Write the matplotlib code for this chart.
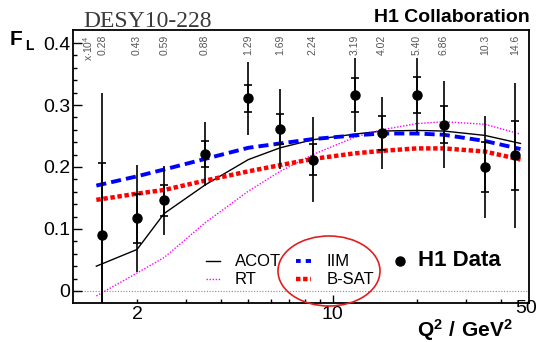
import matplotlib
matplotlib.use("Agg")
import matplotlib.pyplot as plt
from matplotlib.lines import Line2D
from matplotlib.patches import Ellipse
from matplotlib.ticker import FixedLocator, FuncFormatter

plt.rcParams['font.family'] = ['Liberation Sans', 'DejaVu Sans']
plt.rcParams['mathtext.fontset'] = 'custom'
plt.rcParams['mathtext.rm'] = 'Liberation Sans'
plt.rcParams['mathtext.bf'] = 'Liberation Sans:bold'

# H1 F_L measurement
q2 = [1.5, 2, 2.5, 3.5, 5, 6.5, 8.5, 12, 15, 20, 25, 35, 45]
fl = [0.090, 0.117, 0.146, 0.221, 0.311, 0.261, 0.212, 0.316, 0.255, 0.316, 0.268, 0.200, 0.219]
fl_stat = [0.116, 0.039, 0.025, 0.021, 0.022, 0.024, 0.025, 0.028, 0.027, 0.029, 0.030, 0.040, 0.056]
fl_tot = [0.229, 0.087, 0.056, 0.052, 0.059, 0.065, 0.068, 0.060, 0.058, 0.060, 0.070, 0.082, 0.117]
x_labels = ['0.28', '0.43', '0.59', '0.88', '1.29', '1.69', '2.24',
            '3.19', '4.02', '5.40', '6.86', '10.3', '14.6']

# model predictions
q2_model = [1.43, 2, 2.5, 3.5, 5, 6.5, 8.5, 12, 15, 20, 25, 35, 47]
acot = [0.040, 0.067, 0.125, 0.171, 0.212, 0.231, 0.244, 0.253, 0.258, 0.259, 0.258, 0.251, 0.238]
rt = [-0.008, 0.029, 0.054, 0.110, 0.161, 0.193, 0.220, 0.248, 0.260, 0.270, 0.273, 0.269, 0.253]
iim = [0.170, 0.185, 0.196, 0.213, 0.231, 0.238, 0.245, 0.251, 0.254, 0.254, 0.252, 0.242, 0.229]
bsat = [0.147, 0.157, 0.163, 0.178, 0.193, 0.203, 0.213, 0.222, 0.226, 0.230, 0.230, 0.225, 0.212]

W, H = 541, 342
fig = plt.figure(figsize=(W / 100, H / 100), dpi=100)


def px(x, y):
    # pixel position (from top left) -> figure fraction
    return x / W, 1 - y / H


ax = fig.add_axes([73 / W, (H - 303) / H, (529 - 73) / W, (303 - 29.5) / H])
ax.set_xscale('log')
ax.set_xlim(1.18, 50.4)
ax.set_ylim(-0.0194, 0.4218)

ax.axhline(0, color='#888888', lw=0.8, ls=(0, (1, 1.5)), zorder=1)

ax.plot(q2_model, acot, color='black', lw=1.0, zorder=2)
ax.plot(q2_model, rt, color='#ff00ff', lw=1.0, ls=(0, (1, 1.2)), zorder=2)
ax.plot(q2_model, iim, color='#0000ff', lw=2.8, ls=(0, (2.6, 1.3)), zorder=2)
ax.plot(q2_model, bsat, color='#ff0000', lw=3.2, ls=(0, (1, 0.6)),
        dash_capstyle='butt', zorder=2)

ax.errorbar(q2, fl, yerr=fl_tot, fmt='o', color='black', ms=6.5,
            elinewidth=1.2, capsize=0, zorder=3)
ax.errorbar(q2, fl, yerr=fl_stat, fmt='none', ecolor='black',
            elinewidth=1.2, capsize=3, capthick=1.2, zorder=3)

# x values along the top
for q, lab in zip(q2, x_labels):
    ax.text(q, 0.413, lab, rotation=90, ha='center', va='top',
            fontsize=7.5, color='#555555')
fig.text(*px(88, 35), r'x$\cdot$10$^{4}$', rotation=90, ha='center', va='top',
         fontsize=7.5, color='#555555')

# axis ticks
ax.yaxis.set_major_locator(FixedLocator([0, 0.1, 0.2, 0.3, 0.4]))
ax.yaxis.set_minor_locator(FixedLocator([i * 0.02 for i in range(21)]))
ax.yaxis.set_major_formatter(FuncFormatter(lambda v, p: '0' if abs(v) < 1e-9 else '%.1f' % v))
ax.xaxis.set_major_locator(FixedLocator([10]))
ax.xaxis.set_minor_locator(FixedLocator([2, 3, 4, 5, 6, 7, 8, 9, 20, 30, 40]))
ax.xaxis.set_major_formatter(FuncFormatter(lambda v, p: '10'))
ax.xaxis.set_minor_formatter(FuncFormatter(lambda v, p: '2' if abs(v - 2) < 1e-6 else ''))
ax.tick_params(which='both', direction='in', top=False, right=False, width=1.0)
ax.tick_params(axis='y', which='major', length=6.5, pad=2, labelsize=14)
ax.tick_params(axis='y', which='minor', length=3.2)
ax.tick_params(axis='x', which='major', length=5.8, pad=2.5, labelsize=14)
ax.tick_params(axis='x', which='minor', length=2.6, pad=2.5, labelsize=14)
for s in ax.spines.values():
    s.set_linewidth(1.3)

# titles and axis labels
fig.text(*px(83, 27), 'DESY10-228', family='Liberation Serif', fontsize=17,
         color='#3a3a3a', va='baseline', ha='left')
fig.text(*px(530, 22), 'H1 Collaboration', fontsize=14, fontweight='bold',
         va='baseline', ha='right')
fig.text(*px(10, 45), 'F', fontsize=15, fontweight='bold', va='baseline')
fig.text(*px(25, 50), 'L', fontsize=10, fontweight='bold', va='baseline')
fig.text(*px(513, 337), r'$\mathbf{Q^{2}\ /\ GeV^{2}}$', fontsize=15,
         va='baseline', ha='right')
fig.text(*px(515, 300), '50', fontsize=14, va='top', ha='left')

# legend
fig.add_artist(Line2D([206 / W, 220 / W], [1 - 261 / H] * 2, color='black', lw=1.0))
fig.add_artist(Line2D([206 / W, 220 / W], [1 - 279 / H] * 2, color='#ff00ff', lw=1.0,
                      ls=(0, (1, 1.2))))
fig.add_artist(Line2D([296 / W, 311 / W], [1 - 261 / H] * 2, color='#0000ff', lw=2.8,
                      ls=(0, (1.2, 1.3, 2.6, 1.3))))
fig.add_artist(Line2D([296 / W, 311 / W], [1 - 279 / H] * 2, color='#ff0000', lw=3.2,
                      ls=(0, (1, 0.6)), dash_capstyle='butt'))
fig.text(*px(235, 261), 'ACOT', fontsize=12, va='center')
fig.text(*px(235, 280), 'RT', fontsize=12, va='center')
fig.text(*px(327, 261), 'IIM', fontsize=12, va='center')
fig.text(*px(327, 280), 'B-SAT', fontsize=12, va='center')
fig.add_artist(Line2D([400 / W], [1 - 261 / H], marker='o', color='black', ms=6.5, ls='none'))
fig.text(*px(418, 261), 'H1 Data', fontsize=16, fontweight='bold', va='center')

fig.add_artist(Ellipse(px(329, 271), 102 / W, 70 / H, fill=False,
                       edgecolor='#e02020', lw=1.2, transform=fig.transFigure))

fig.savefig('out.png', dpi=100)
